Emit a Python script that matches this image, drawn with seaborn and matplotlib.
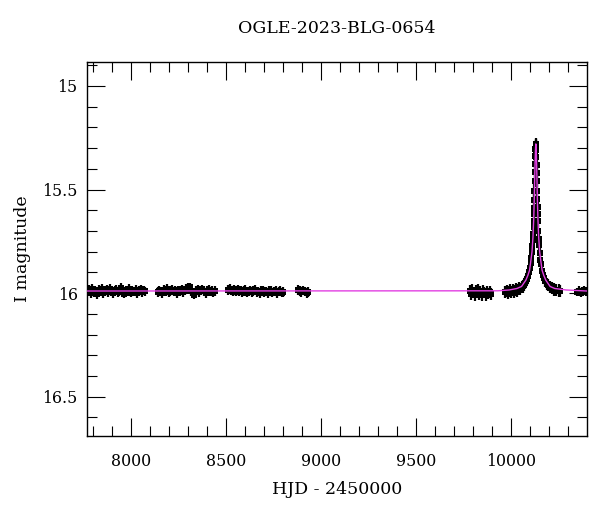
import matplotlib
matplotlib.use("Agg")
from matplotlib import pyplot as plt
from matplotlib.ticker import MultipleLocator, FuncFormatter
import pandas as pd
import seaborn as sns

# OGLE photometry: HJD - 2450000 and I magnitude, per season
t_s1 = [7776, 7783, 7791, 7799, 7806, 7815, 7823, 7831, 7840, 7848,
        7857, 7865, 7873, 7882, 7890, 7899, 7907, 7916, 7924, 7933,
        7941, 7950, 7958, 7967, 7975, 7984, 7992, 8001, 8009, 8018,
        8026, 8035, 8043, 8052, 8060, 8068, 8074]
m_s1 = [15.990, 15.985, 16.000, 15.980, 15.995, 15.990, 16.005, 15.985, 15.990, 15.978,
        16.000, 15.990, 15.985, 15.995, 15.980, 15.992, 16.002, 15.988, 15.984, 15.996,
        15.990, 15.975, 15.995, 16.003, 15.986, 15.990, 15.980, 15.998, 15.988, 15.993,
        15.985, 16.000, 15.990, 15.982, 15.995, 15.988, 15.992]

t_s2 = [8142, 8150, 8158, 8167, 8175, 8184, 8192, 8200, 8209, 8217,
        8226, 8234, 8242, 8251, 8259, 8268, 8276, 8284, 8293, 8301,
        8310, 8318, 8326, 8335, 8343, 8352, 8360, 8368, 8377, 8385,
        8394, 8402, 8410, 8419, 8427, 8435, 8441]
m_s2 = [15.995, 15.988, 15.992, 16.002, 15.985, 15.990, 15.980, 15.996, 15.990, 15.984,
        15.994, 15.988, 16.000, 15.986, 15.990, 15.982, 15.995, 15.988, 15.980, 15.975,
        15.972, 15.990, 15.998, 16.008, 15.990, 15.985, 15.995, 15.988, 15.982, 15.992,
        16.000, 15.988, 15.985, 15.994, 15.990, 15.996, 15.990]

t_s3 = [8512, 8520, 8528, 8537, 8545, 8553, 8562, 8570, 8578, 8587,
        8595, 8603, 8612, 8620, 8628, 8637, 8645, 8653, 8662, 8670,
        8678, 8687, 8695, 8703, 8712, 8720, 8728, 8737, 8745, 8753,
        8762, 8770, 8778, 8787, 8795, 8800]
m_s3 = [15.985, 15.980, 15.988, 15.992, 15.985, 15.990, 15.982, 15.994, 15.988, 15.996,
        15.990, 15.985, 15.998, 15.992, 15.988, 15.995, 15.990, 15.984, 15.996, 15.992,
        16.000, 15.990, 15.986, 15.995, 15.992, 16.002, 15.990, 15.988, 15.996, 15.992,
        15.990, 16.000, 15.994, 15.990, 15.998, 15.995]

t_s4 = [8880, 8889, 8898, 8907, 8916, 8925, 8934]
m_s4 = [15.985, 15.990, 15.995, 15.988, 15.992, 16.000, 15.995]

t_s5 = [9782, 9789, 9796, 9803, 9810, 9817, 9824, 9831, 9838, 9845,
        9852, 9859, 9866, 9873, 9880, 9887, 9894]
m_s5 = [15.990, 16.005, 15.985, 15.998, 16.010, 15.990, 15.982, 16.004, 15.995, 16.008,
        15.988, 15.998, 16.010, 15.992, 16.002, 15.995, 16.005]

t_s6 = [9968, 9976, 9984, 9992, 10000, 10008, 10016, 10024, 10032, 10040,
        10048, 10055, 10062, 10068, 10074, 10080, 10085, 10090, 10095, 10099,
        10103, 10107, 10110, 10112, 10114, 10116, 10118, 10119, 10120, 10121,
        10122, 10123, 10124, 10125, 10126, 10127, 10128, 10129, 10130, 10131,
        10132, 10133, 10134, 10135, 10136, 10137, 10138, 10139, 10140, 10141,
        10143, 10145, 10147, 10150, 10154, 10158, 10163, 10168, 10174, 10180,
        10188, 10196, 10205, 10215, 10226, 10238, 10250, 10258]
m_s6 = [15.995, 15.990, 15.998, 15.988, 15.995, 15.985, 15.992, 15.982, 15.988, 15.978,
        15.980, 15.972, 15.968, 15.960, 15.952, 15.942, 15.930, 15.918, 15.900, 15.880,
        15.855, 15.830, 15.800, 15.775, 15.745, 15.715, 15.680, 15.650, 15.620, 15.590,
        15.550, 15.505, 15.460, 15.415, 15.375, 15.340, 15.305, 15.285, 15.280, 15.290,
        15.310, 15.345, 15.380, 15.420, 15.460, 15.505, 15.545, 15.585, 15.620, 15.650,
        15.700, 15.740, 15.770, 15.805, 15.840, 15.862, 15.895, 15.912, 15.928, 15.942,
        15.955, 15.962, 15.972, 15.976, 15.982, 15.985, 15.988, 15.990]

t_s7 = [10347, 10356, 10365, 10374, 10383, 10392]
m_s7 = [15.995, 15.988, 16.000, 15.992, 15.985, 15.995]

season_t = [t_s1, t_s2, t_s3, t_s4, t_s5, t_s6, t_s7]
season_m = [m_s1, m_s2, m_s3, m_s4, m_s5, m_s6, m_s7]
season_err = [0.022, 0.022, 0.022, 0.022, 0.028, 0.03, 0.02]

# Microlensing model curve (magenta)
model_t = [7772, 9930, 9990, 10030, 10055, 10078, 10088, 10097, 10102, 10110,
           10115, 10119, 10122, 10124, 10126, 10128, 10130, 10132, 10134, 10136,
           10138, 10141, 10145, 10150, 10158, 10163, 10172, 10182, 10205, 10230,
           10290, 10398]
model_m = [15.990, 15.989, 15.985, 15.978, 15.968, 15.937, 15.915, 15.890, 15.857, 15.800,
           15.730, 15.640, 15.540, 15.450, 15.370, 15.310, 15.280, 15.310, 15.370, 15.450,
           15.540, 15.640, 15.730, 15.800, 15.857, 15.890, 15.915, 15.937, 15.968, 15.978,
           15.985, 15.990]

rows = []
for ts, ms, e in zip(season_t, season_m, season_err):
    for t, m in zip(ts, ms):
        rows.append((t, m, e))
phot = pd.DataFrame(rows, columns=["hjd", "mag", "err"])
model = pd.DataFrame({"hjd": model_t, "mag": model_m})

sns.set_theme(style="ticks")
plt.rcParams["font.family"] = ["DejaVu Serif"]
plt.rcParams["text.color"] = "black"
plt.rcParams["axes.labelcolor"] = "black"
plt.rcParams["xtick.color"] = "black"
plt.rcParams["ytick.color"] = "black"
plt.rcParams["xtick.direction"] = "in"
plt.rcParams["ytick.direction"] = "in"

fig, ax = plt.subplots(figsize=(6, 5.12), dpi=100)
fig.subplots_adjust(left=0.1455, right=0.978, bottom=0.1484, top=0.8783)

# error bars, then the points, then the model on top
ax.errorbar(phot.hjd, phot.mag, yerr=phot.err, fmt="none", ecolor="black",
            elinewidth=1.6, capsize=0, zorder=2)
sns.scatterplot(data=phot, x="hjd", y="mag", marker="s", s=20, color="black",
                edgecolor="black", linewidth=0, ax=ax, zorder=3)
sns.lineplot(data=model, x="hjd", y="mag", color="#e23fe2", linewidth=1.0,
             sort=False, ax=ax, zorder=4)

ax.set_xlim(7772, 10398)
ax.set_ylim(16.69, 14.886)

ax.xaxis.set_major_locator(MultipleLocator(500))
ax.xaxis.set_minor_locator(MultipleLocator(100))
ax.yaxis.set_major_locator(MultipleLocator(0.5))
ax.yaxis.set_minor_locator(MultipleLocator(0.1))
ax.yaxis.set_major_formatter(FuncFormatter(lambda v, p: f"{v:g}"))

ax.tick_params(which="both", direction="in", top=True, right=True,
               color="black", labelcolor="black", width=0.8, labelsize=11.4)
ax.tick_params(which="major", length=13)
ax.tick_params(which="minor", length=7)
ax.tick_params(axis="x", which="major", pad=12)
ax.tick_params(axis="y", which="major", pad=7)

for s in ax.spines.values():
    s.set_color("black")
    s.set_linewidth(1.0)

ax.set_xlabel("HJD - 2450000", fontsize=12.5, labelpad=8)
ax.set_ylabel("I magnitude", fontsize=12.5, labelpad=8)
ax.set_title("OGLE-2023-BLG-0654", fontsize=12.5, pad=21)

plt.savefig("out.png", dpi=100)
